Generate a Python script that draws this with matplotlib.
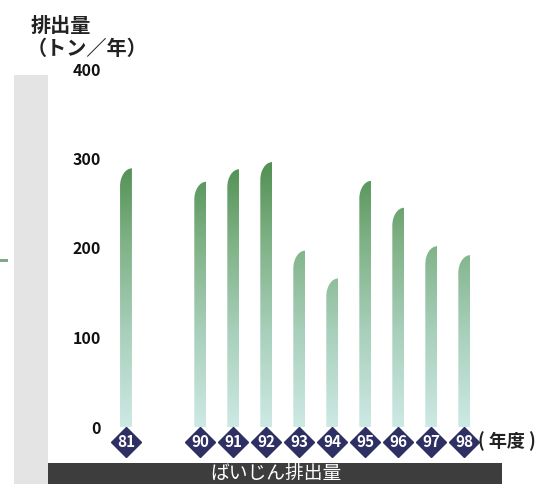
import numpy as np
import matplotlib.pyplot as plt
from matplotlib.path import Path
from matplotlib.patches import PathPatch, Rectangle
from matplotlib.colors import LinearSegmentedColormap

plt.rcParams['font.family'] = ['Noto Sans CJK JP', 'DejaVu Sans']

# データ
years = ['81', '90', '91', '92', '93', '94', '95', '96', '97', '98']
xpos = [0, 2.25, 3.25, 4.25, 5.25, 6.25, 7.25, 8.25, 9.25, 10.25]
values = [289, 274, 288, 296, 197, 166, 275, 245, 202, 192]
yticks = [0, 100, 200, 300, 400]

W, H = 541, 484


def fx(px):
    return px / W


def fy(py):
    return 1 - py / H


fig = plt.figure(figsize=(W / 100, H / 100), dpi=100)

# 左のグレー帯と小さな緑の線
fig.patches.append(Rectangle((fx(14), 0), fx(48) - fx(14), fy(75), transform=fig.transFigure,
                             facecolor='#e4e4e4', edgecolor='none', zorder=0))
fig.patches.append(Rectangle((0, fy(262)), fx(8), fy(259) - fy(262), transform=fig.transFigure,
                             facecolor='#7fa886', edgecolor='none', zorder=0))
# 下の黒い帯
fig.patches.append(Rectangle((fx(48), 0), fx(502) - fx(48), fy(463), transform=fig.transFigure,
                             facecolor='#3d3d3d', edgecolor='none', zorder=0))
fig.text(fx(276), fy(463), 'ばいじん排出量', color='white', fontsize=13.5,
         ha='center', va='top')

ax = fig.add_axes([fx(105), fy(427), fx(480) - fx(105), fy(69) - fy(427)])
ax.patch.set_alpha(0)
for s in ax.spines.values():
    s.set_visible(False)
ax.set_xticks([])
ax.set_yticks(yticks)
ax.set_yticklabels([str(v) for v in yticks], fontsize=11.5, fontweight='bold', color='#111111')
ax.tick_params(axis='y', length=0, pad=3)

cmap = LinearSegmentedColormap.from_list('g', ['#cde9e4', '#a9d0bc', '#7fb286', '#4a8a4a'])
grad = np.linspace(0, 1, 256).reshape(-1, 1)

bw = 0.36   # 棒の幅
r = 20      # 上部カーブの高さ
k = 0.5523
for x, v in zip(xpos, values):
    l, rr = x - bw / 2, x + bw / 2
    verts = [(l, 0), (l, v - r), (l, v - r + k * r), (rr - k * bw, v), (rr, v), (rr, 0), (l, 0)]
    codes = [Path.MOVETO, Path.LINETO, Path.CURVE4, Path.CURVE4, Path.CURVE4, Path.LINETO, Path.CLOSEPOLY]
    patch = PathPatch(Path(verts, codes), facecolor='none', edgecolor='none')
    ax.add_patch(patch)
    im = ax.imshow(grad, cmap=cmap, origin='lower', extent=[l, rr, 0, 310],
                   aspect='auto', interpolation='bilinear', zorder=2)
    im.set_clip_path(patch)

ax.set_xlim(-0.636, 10.727)
ax.set_ylim(0, 400)

# 年度のひし形ラベル
ax.plot(xpos, [-16.8] * len(xpos), 'D', markersize=15, color='#2e2f62',
        clip_on=False, zorder=3)
for x, y in zip(xpos, years):
    ax.text(x, -16.8, y, color='white', fontsize=11, fontweight='bold',
            ha='center', va='center', clip_on=False, zorder=4)

fig.text(fx(31), fy(25), '排出量', fontsize=14.5, fontweight='bold', color='#222222',
         ha='left', va='center')
fig.text(fx(27), fy(48), '（トン／年）', fontsize=14.5, fontweight='bold', color='#222222',
         ha='left', va='center')
fig.text(fx(478), fy(441), '( 年度 )', fontsize=13, fontweight='bold', color='#222222',
         ha='left', va='center')

fig.savefig('out.png', dpi=100)
